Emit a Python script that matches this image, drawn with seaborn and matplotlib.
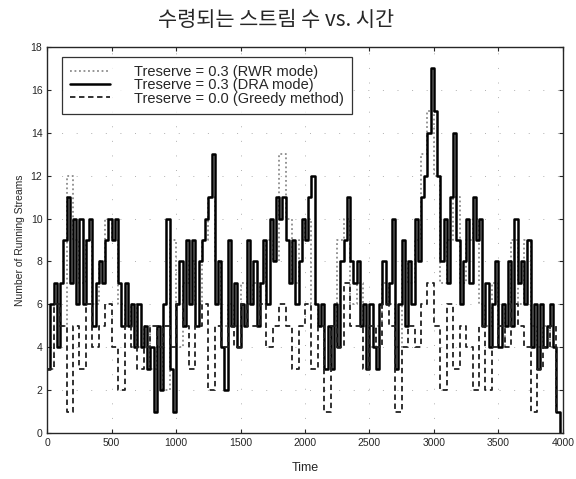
import numpy as np
import pandas as pd
import matplotlib
matplotlib.use("Agg")
import matplotlib.pyplot as plt
import seaborn as sns

# ------------------------------------
# Data
# ------------------------------------
# DRA mode, one value per 25 time units
dra_t = np.arange(0, 4000, 25)
dra_streams = [
    3, 6, 7, 4, 7, 9, 11, 7,
    10, 6, 10, 6, 9, 10, 5, 7,
    8, 7, 9, 10, 9, 10, 7, 5,
    7, 5, 6, 4, 6, 4, 5, 3,
    4, 1, 5, 2, 6, 10, 3, 1,
    6, 8, 5, 9, 6, 9, 5, 8,
    9, 10, 11, 13, 6, 8, 4, 2,
    9, 5, 7, 4, 6, 5, 9, 6,
    8, 5, 7, 9, 6, 10, 8, 11,
    10, 11, 9, 7, 9, 6, 8, 10,
    9, 11, 12, 6, 5, 6, 3, 5,
    3, 6, 4, 8, 9, 11, 8, 7,
    8, 5, 6, 3, 6, 4, 3, 6,
    8, 6, 7, 10, 3, 6, 9, 5,
    8, 6, 10, 8, 11, 12, 14, 17,
    15, 12, 8, 10, 7, 11, 14, 9,
    6, 8, 10, 7, 11, 9, 10, 5,
    7, 4, 6, 8, 4, 6, 5, 8,
    5, 10, 7, 8, 6, 9, 4, 6,
    3, 6, 4, 5, 6, 4, 1, 0,
]

# RWR mode and greedy method, one value per 50 time units
other_t = np.arange(0, 4000, 50)
rwr_streams = [
    3, 6, 5, 12, 9, 7, 9, 6,
    8, 10, 9, 6, 5, 6, 4, 5,
    3, 5, 2, 9, 4, 7, 8, 6,
    9, 11, 8, 5, 6, 5, 7, 6,
    7, 6, 9, 8, 13, 10, 7, 9,
    10, 6, 5, 3, 5, 9, 10, 6,
    7, 5, 4, 5, 7, 6, 4, 8,
    7, 9, 13, 15, 12, 7, 9, 11,
    7, 9, 10, 6, 5, 7, 4, 6,
    9, 6, 9, 5, 4, 5, 4, 1,
]
greedy_streams = [
    3, 6, 5, 1, 5, 3, 6, 4,
    5, 6, 4, 2, 5, 4, 3, 4,
    5, 4, 5, 4, 6, 5, 3, 5,
    6, 2, 5, 4, 5, 4, 6, 5,
    5, 6, 4, 5, 6, 5, 3, 5,
    6, 3, 5, 1, 5, 4, 7, 5,
    5, 3, 5, 4, 6, 5, 1, 4,
    5, 4, 6, 7, 5, 2, 6, 3,
    5, 4, 2, 5, 2, 4, 5, 4,
    6, 5, 4, 1, 3, 4, 5, 1,
]

labels = ["Treserve = 0.3 (RWR mode)",
          "Treserve = 0.3 (DRA mode)",
          "Treserve = 0.0 (Greedy method)"]

# ------------------------------------
# Plot
# ------------------------------------
sns.set_style("ticks")
plt.rcParams["font.family"] = ["Liberation Sans", "DejaVu Sans"]

fig = plt.figure(figsize=(5.76, 4.79), dpi=100)
ax = fig.add_axes([0.082, 0.096, 0.895, 0.806])

df_rwr = pd.DataFrame({"Time": other_t, "Streams": rwr_streams})
df_dra = pd.DataFrame({"Time": dra_t, "Streams": dra_streams})
df_gr = pd.DataFrame({"Time": other_t, "Streams": greedy_streams})

sns.lineplot(data=df_rwr, x="Time", y="Streams", ax=ax, estimator=None,
             drawstyle="steps-post", color="#8c8c8c", linewidth=1.3,
             linestyle=(0, (1, 1.5)), label=labels[0])
sns.lineplot(data=df_dra, x="Time", y="Streams", ax=ax, estimator=None,
             drawstyle="steps-post", color="black", linewidth=1.8,
             label=labels[1])
sns.lineplot(data=df_gr, x="Time", y="Streams", ax=ax, estimator=None,
             drawstyle="steps-post", color="#222222", linewidth=1.3,
             linestyle=(0, (3, 2)), label=labels[2])

ax.set_xlim(0, 4000)
ax.set_ylim(0, 18)
ax.set_xticks(range(0, 4001, 500))
ax.set_yticks(range(0, 19, 2))
ax.tick_params(direction="in", top=True, right=True, labelsize=7.5, length=3)
ax.grid(True, color="#b0b0b0", linestyle=(0, (1, 14)), linewidth=0.7)
for s in ax.spines.values():
    s.set_linewidth(1.0)

ax.set_xlabel("Time", fontsize=9, labelpad=10)
ax.set_ylabel("Number of Running Streams", fontsize=7.5, labelpad=4)

leg = ax.legend(loc="upper left", fontsize=10.5, frameon=True, fancybox=False,
                edgecolor="black", handlelength=2.7, borderpad=0.55,
                labelspacing=-0.05, handletextpad=1.7, borderaxespad=0,
                bbox_to_anchor=(0.029, 0.974))
leg.get_frame().set_linewidth(0.9)

fig.text(0.479, 0.958, "수령되는 스트림 수 vs. 시간", ha="center", va="center",
         fontsize=15, family=["Noto Sans CJK KR", "DejaVu Sans"])

fig.savefig("out.png", dpi=100)
